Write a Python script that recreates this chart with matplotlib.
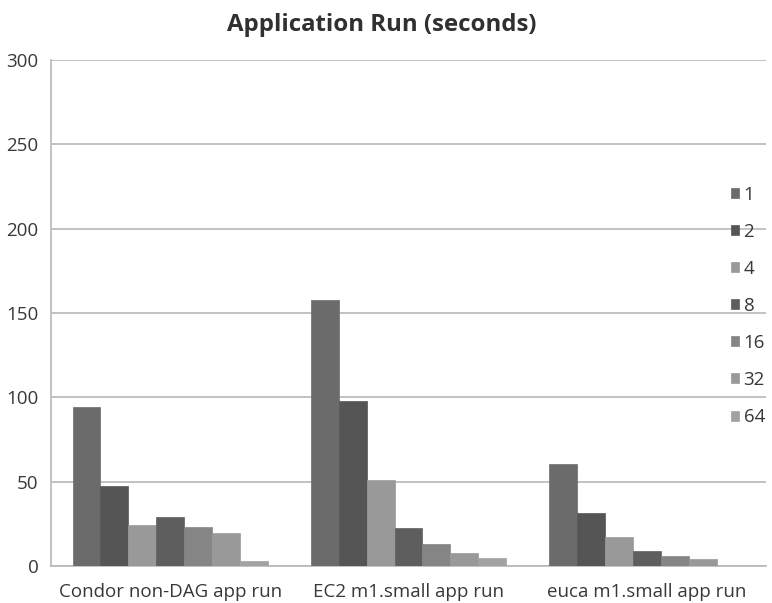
import matplotlib
matplotlib.use("Agg")
import matplotlib.pyplot as plt
import numpy as np

categories = ["Condor non-DAG app run", "EC2 m1.small app run", "euca m1.small app run"]
series_names = ["1", "2", "4", "8", "16", "32", "64"]
s1 = [94.5, 158.0, 60.7]
s2 = [47.2, 97.6, 31.2]
s4 = [24.5, 51.0, 17.0]
s8 = [29.0, 22.4, 9.1]
s16 = [23.2, 13.3, 5.7]
s32 = [19.6, 7.7, 4.2]
s64 = [3.2, 5.0, 0.0]
series = [s1, s2, s4, s8, s16, s32, s64]
colors = ["#6b6b6b", "#555555", "#999999", "#5e5e5e", "#858585", "#999999", "#a2a2a2"]
yticks = [0, 50, 100, 150, 200, 250, 300]

plt.rcParams['font.family'] = ['Open Sans', 'DejaVu Sans']

fig = plt.figure(figsize=(7.72, 6.03), dpi=100)
ax = fig.add_axes([51/772, 1 - 566/603, (766 - 51)/772, (566 - 60)/603])

n = len(series)
x = np.arange(len(categories))
group_w = 195/238
bw = group_w / n
for i, (vals, c, name) in enumerate(zip(series, colors, series_names)):
    ax.bar(x - group_w/2 + bw*(i + 0.5), vals, width=bw, color=c, label=name,
           edgecolor=c, linewidth=0.5, zorder=3)

tc = "#383838"
ax.set_xlim(-0.5, len(categories) - 0.5)
ax.set_ylim(0, 300)
ax.set_yticks(yticks)
ax.set_yticklabels([str(t) for t in yticks], fontsize=13.5, color=tc)
ax.set_xticks(x)
ax.set_xticklabels(categories, fontsize=13.5, color=tc)
ax.tick_params(axis='y', length=0, pad=9)
ax.tick_params(axis='x', length=0, pad=12)
ax.yaxis.grid(True, color="#b8b8b8", linewidth=1.2, zorder=0)
ax.set_axisbelow(True)
for s in ["top", "right"]:
    ax.spines[s].set_visible(False)
for s in ["left", "bottom"]:
    ax.spines[s].set_color("#b8b8b8")
    ax.spines[s].set_linewidth(1.2)

fig.text(382/772, 1 - 25/603, "Application Run (seconds)", ha="center", va="center",
         fontsize=17.3, fontweight="bold", color="#303030")

leg = ax.legend(loc="upper left", bbox_to_anchor=(723/772, 1 - 178/603),
                bbox_transform=fig.transFigure, frameon=False, fontsize=13.5,
                handlelength=0.45, handleheight=0.45, handletextpad=0.25,
                labelspacing=1.02, borderaxespad=0)
for t in leg.get_texts():
    t.set_color(tc)

fig.savefig("out.png", dpi=100)
